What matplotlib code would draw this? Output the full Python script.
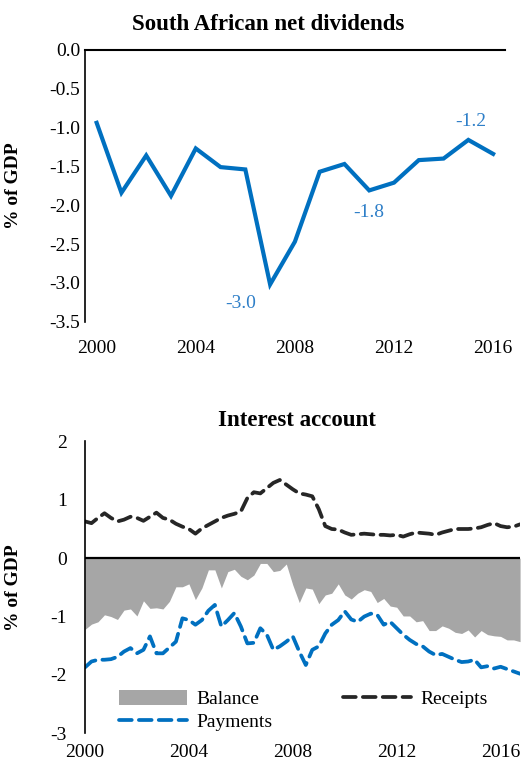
import numpy as np
import matplotlib
matplotlib.use('Agg')
import matplotlib.pyplot as plt
from matplotlib.patches import Patch
from matplotlib.lines import Line2D

plt.rcParams['font.family'] = ['Liberation Serif', 'DejaVu Serif']
plt.rcParams['axes.unicode_minus'] = False

# Net dividends, annual, % of GDP
years = list(range(2000, 2017))
dividends = [-0.94, -1.84, -1.36, -1.88, -1.27, -1.51, -1.54, -3.02, -2.47,
             -1.57, -1.47, -1.81, -1.71, -1.42, -1.40, -1.16, -1.34]
labelled_years = [2007, 2011, 2015]

# Interest account, quarterly 2000Q1 - 2016Q4, % of GDP
receipts = [0.63, 0.60, 0.69, 0.77, 0.69, 0.63, 0.66, 0.71, 0.69, 0.64, 0.71, 0.78,
            0.69, 0.66, 0.59, 0.54, 0.50, 0.42, 0.51, 0.57, 0.63, 0.69, 0.73, 0.76,
            0.80, 1.03, 1.13, 1.11, 1.20, 1.29, 1.34, 1.26, 1.18, 1.11, 1.09, 1.06,
            0.84, 0.55, 0.50, 0.49, 0.44, 0.40, 0.41, 0.42, 0.41, 0.40, 0.40, 0.39,
            0.40, 0.37, 0.41, 0.44, 0.43, 0.42, 0.40, 0.44, 0.47, 0.50, 0.50, 0.50,
            0.51, 0.53, 0.57, 0.60, 0.55, 0.53, 0.54, 0.58]
payments = [-1.87, -1.77, -1.74, -1.74, -1.73, -1.69, -1.60, -1.54, -1.63, -1.57, -1.34, -1.63,
            -1.63, -1.53, -1.43, -1.03, -1.06, -1.14, -1.06, -0.90, -0.80, -1.17, -1.06, -0.94,
            -1.17, -1.46, -1.45, -1.20, -1.31, -1.57, -1.51, -1.43, -1.34, -1.60, -1.83, -1.57,
            -1.51, -1.29, -1.14, -1.06, -0.91, -1.05, -1.09, -1.00, -0.95, -0.97, -1.14, -1.09,
            -1.20, -1.31, -1.40, -1.47, -1.51, -1.60, -1.66, -1.64, -1.69, -1.74, -1.78, -1.77,
            -1.74, -1.87, -1.85, -1.89, -1.86, -1.90, -1.94, -1.98]
balance = [-1.22, -1.13, -1.09, -0.97, -1.00, -1.05, -0.89, -0.87, -0.99, -0.73, -0.86, -0.85,
           -0.87, -0.74, -0.49, -0.49, -0.44, -0.71, -0.51, -0.20, -0.20, -0.51, -0.23, -0.19,
           -0.31, -0.37, -0.29, -0.09, -0.09, -0.23, -0.21, -0.10, -0.46, -0.76, -0.51, -0.53,
           -0.78, -0.63, -0.60, -0.44, -0.63, -0.70, -0.60, -0.54, -0.57, -0.76, -0.69, -0.82,
           -0.84, -0.99, -0.99, -1.09, -1.07, -1.24, -1.24, -1.16, -1.20, -1.27, -1.29, -1.23,
           -1.35, -1.24, -1.31, -1.33, -1.34, -1.40, -1.40, -1.43]
tick_years = [2000, 2004, 2008, 2012, 2016]

blue = '#0070C0'
label_blue = '#2E7FC8'
dark = '#262626'
grey = '#A6A6A6'
fs = 14

fig = plt.figure(figsize=(5.28, 7.66), dpi=100)

# ---- top panel ----
ax1 = fig.add_axes([0.161, 0.580, 0.795, 0.355])
ax1.plot(years, dividends, color=blue, lw=3, solid_joinstyle='miter')
offsets = {2007: (-21, -14), 2011: (0, -16), 2015: (2, 13)}
for yr in labelled_years:
    v = dividends[years.index(yr)]
    ax1.annotate(f'{v:.1f}', xy=(yr, v), xytext=offsets[yr], textcoords='offset points',
                 ha='center', va='center', color=label_blue, fontsize=fs)
ax1.set_xlim(1999.53, 2016.47)
ax1.set_ylim(-3.5, 0)
ax1.set_yticks(np.arange(-3.5, 0.01, 0.5))
ax1.yaxis.set_major_formatter(plt.FuncFormatter(lambda v, p: f'{v:.1f}'))
ax1.set_xticks(tick_years)
ax1.tick_params(axis='both', length=0, labelsize=fs)
ax1.tick_params(axis='y', pad=3.5)
ax1.tick_params(axis='x', pad=13)
for s in ['right', 'bottom']:
    ax1.spines[s].set_visible(False)
ax1.spines['top'].set_linewidth(1.5)
ax1.spines['left'].set_linewidth(1.2)
ax1.set_ylabel('% of GDP', fontsize=fs, fontweight='bold')
ax1.yaxis.set_label_coords(-0.15, 0.5)
fig.text(268 / 528, 1 - 25 / 766, 'South African net dividends', ha='center', va='center',
         fontsize=16.5, fontweight='bold')

# ---- bottom panel ----
ax2 = fig.add_axes([0.161, 0.0427, 0.824, 0.381])
xq = 2000 + np.arange(len(receipts)) / 4
ax2.fill_between(xq, balance, 0, color=grey, lw=0)
dash = (0, (3.4, 1.9))
lw_d = 2.7
ax2.plot(xq, receipts, color=dark, lw=lw_d, linestyle=dash, dash_capstyle='round')
ax2.plot(xq, payments, color=blue, lw=lw_d, linestyle=dash, dash_capstyle='round')
ax2.axhline(0, color='black', lw=1.6)
ax2.set_xlim(xq[0], xq[-1])
ax2.set_ylim(-3, 2)
ax2.set_yticks(range(-3, 3))
ax2.set_xticks(tick_years)
ax2.tick_params(axis='both', length=0, labelsize=fs)
ax2.tick_params(axis='y', pad=13)
ax2.tick_params(axis='x', pad=8)
for s in ['right', 'top', 'bottom']:
    ax2.spines[s].set_visible(False)
ax2.spines['left'].set_linewidth(1.2)
ax2.set_ylabel('% of GDP', fontsize=fs, fontweight='bold')
ax2.yaxis.set_label_coords(-0.145, 0.5)
fig.text(297 / 528, 1 - 421 / 766, 'Interest account', ha='center', va='center',
         fontsize=16.5, fontweight='bold')

handles = [Patch(facecolor=grey, edgecolor='none', label='Balance'),
           Line2D([], [], color=blue, lw=lw_d, linestyle=dash, dash_capstyle='round', label='Payments'),
           Line2D([], [], color=dark, lw=lw_d, linestyle=dash, dash_capstyle='round', label='Receipts')]
ax2.legend(handles=handles, ncol=2, loc='lower left', bbox_to_anchor=(0.06, -0.02),
           frameon=False, fontsize=fs, handlelength=3.5, handleheight=0.8,
           columnspacing=3.6, labelspacing=0.25, handletextpad=0.5, borderaxespad=0)

fig.savefig('out.png', dpi=100)
